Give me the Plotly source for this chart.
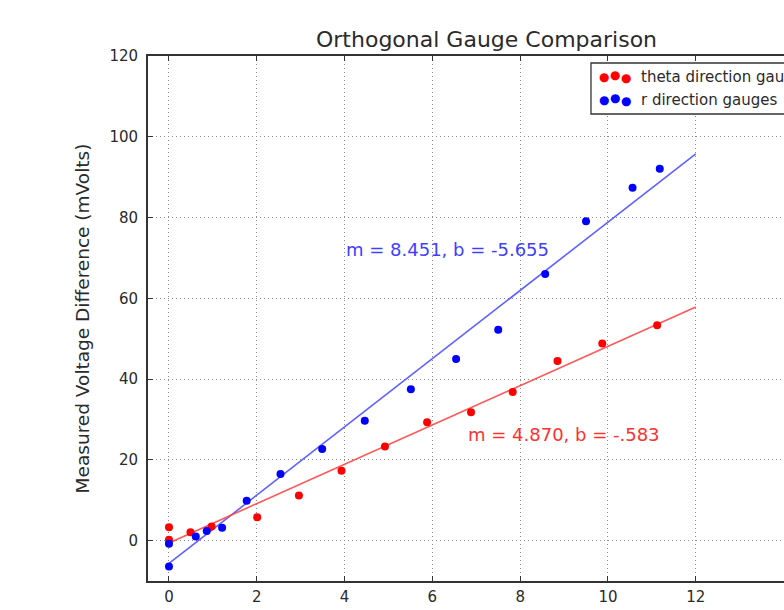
import plotly.graph_objects as go

# Theta-direction gauges: displacement vs measured voltage difference
theta_x = [0.0, 0.0, 0.49, 0.97, 2.01, 2.96, 3.93, 4.92, 5.88, 6.88, 7.83, 8.85, 9.87, 11.12]
theta_y = [3.3, 0.2, 2.1, 3.5, 5.8, 11.2, 17.3, 23.3, 29.3, 31.8, 36.8, 44.5, 48.8, 53.3]

# r-direction gauges
r_x = [0.0, 0.0, 0.61, 0.86, 1.21, 1.77, 2.54, 3.49, 4.46, 5.51, 6.54, 7.50, 8.57, 9.50, 10.56, 11.18]
r_y = [-0.8, -6.4, 1.0, 2.4, 3.2, 9.9, 16.5, 22.7, 29.7, 37.5, 45.0, 52.2, 66.0, 79.1, 87.4, 92.1]

# Least-squares fit parameters
theta_m, theta_b = 4.870, -0.583
r_m, r_b = 8.451, -5.655
fit_x = [0, 12]

x_ticks = [0, 2, 4, 6, 8, 10, 12, 14]
y_ticks = [0, 20, 40, 60, 80, 100, 120]

FONT = "DejaVu Sans"
RED = "#ff0000"
BLUE = "#0000ff"
TXT = "#2a2a2a"

fig = go.Figure()

fig.add_trace(go.Scatter(
    x=fit_x, y=[r_m * x + r_b for x in fit_x], mode="lines",
    line=dict(color="rgba(80,80,255,0.9)", width=1.6), showlegend=False))
fig.add_trace(go.Scatter(
    x=fit_x, y=[theta_m * x + theta_b for x in fit_x], mode="lines",
    line=dict(color="rgba(255,70,70,0.9)", width=1.6), showlegend=False))

fig.add_trace(go.Scatter(
    x=theta_x, y=theta_y, mode="markers", name="theta direction gauges",
    marker=dict(color=RED, size=8, line=dict(width=0)), showlegend=False))
fig.add_trace(go.Scatter(
    x=r_x, y=r_y, mode="markers", name="r direction gauges",
    marker=dict(color=BLUE, size=8, line=dict(width=0)), showlegend=False))

annotations = [
    dict(text="Orthogonal Gauge Comparison", xref="paper", yref="paper",
         x=0.533, y=1.031, xanchor="center", yanchor="middle", showarrow=False,
         font=dict(family=FONT, size=22, color=TXT)),
    dict(text=f"m = {r_m:.3f}, b = {r_b:.3f}", xref="x", yref="y",
         x=3.99, y=72, xanchor="left", yanchor="middle", showarrow=False,
         font=dict(family=FONT, size=18, color="#4040ff")),
    dict(text=f"m = {theta_m:.3f}, b = -.583", xref="x", yref="y",
         x=6.77, y=26.4, xanchor="left", yanchor="middle", showarrow=False,
         font=dict(family=FONT, size=18, color="#ff3030")),
]

# legend box and entries
legend_rows = [
    ("theta direction gauges", RED, 0.9605),
    ("r direction gauges", BLUE, 0.9165),
]
dot_dx = [0.0, 0.017, 0.034]
dot_dy = [0.0, 0.004, -0.002]
for label, color, ypos in legend_rows:
    for dx, dy in zip(dot_dx, dot_dy):
        annotations.append(dict(
            text="●", xref="paper", yref="paper", x=0.7175 + dx, y=ypos + dy,
            xanchor="center", yanchor="middle", showarrow=False,
            font=dict(family=FONT, size=12, color=color)))
    annotations.append(dict(
        text=label, xref="paper", yref="paper", x=0.772, y=ypos,
        xanchor="left", yanchor="middle", showarrow=False,
        font=dict(family=FONT, size=15, color=TXT)))

shapes = [
    dict(type="rect", xref="paper", yref="paper", x0=0.6965, x1=1.06, y0=0.8895, y1=0.9867,
         line=dict(color="#333333", width=1.3), fillcolor="white", layer="above"),
]

axis_common = dict(
    showline=True, linecolor="#333333", linewidth=1.8,
    ticks="inside", ticklen=5, tickcolor="#333333", tickwidth=1,
    showgrid=True, gridcolor="#8a8a8a", griddash="1px,3px", gridwidth=1,
    zeroline=False,
    tickfont=dict(family=FONT, size=15, color=TXT),
)

fig.update_layout(
    width=784, height=610,
    margin=dict(l=148, r=0, t=56, b=29),
    paper_bgcolor="white", plot_bgcolor="white",
    showlegend=False,
    xaxis=dict(range=[-0.478, 14.01], tickvals=x_ticks, mirror="ticks",
               ticklabelstandoff=1, **axis_common),
    yaxis=dict(range=[-10, 120], tickvals=y_ticks, ticklabelstandoff=5,
               title=dict(text="Measured Voltage Difference (mVolts)", standoff=15,
                          font=dict(family=FONT, size=18.5, color=TXT)),
               **axis_common),
    annotations=annotations,
    shapes=shapes,
)

fig.write_html("out.html")
